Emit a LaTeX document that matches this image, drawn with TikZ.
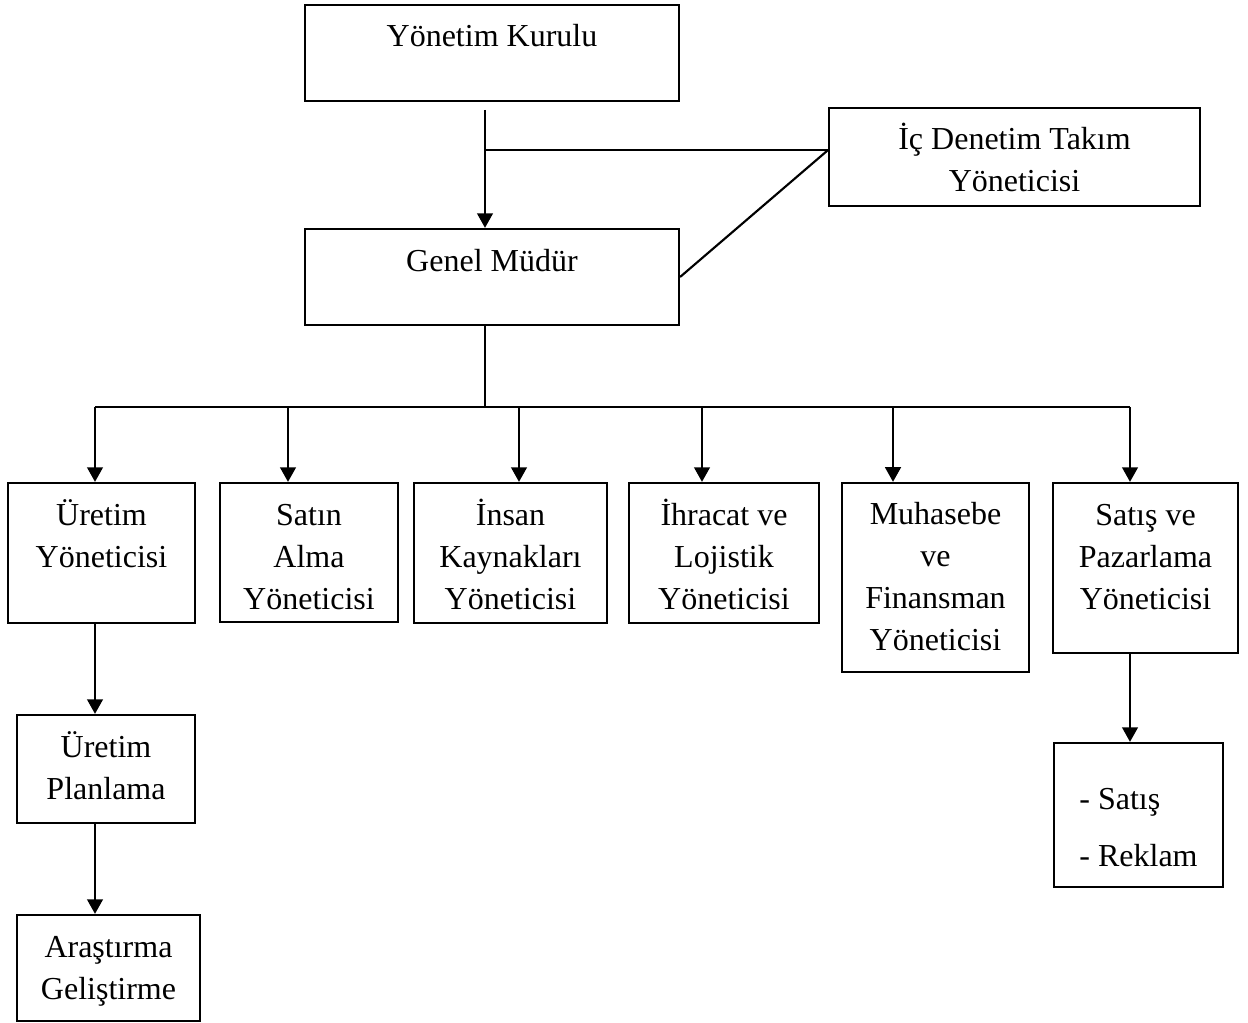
\documentclass[tikz,border=0pt]{standalone}
\usepackage{fontspec}
\setmainfont{Liberation Serif}
\usepackage{tikz}
\usetikzlibrary{arrows.meta, positioning, calc}

\begin{document}
\begin{tikzpicture}[x=0.375pt, y=-0.375pt, >={Triangle[width=5.8pt, length=5.5pt]},
  font=\fontsize{12pt}{15.75pt}\selectfont,
  box/.style={draw, line width=0.8pt, align=center, inner xsep=2pt, inner ysep=0pt},
  one/.style={text height=15.75pt},
  two/.style={text height=31.5pt},
  three/.style={text height=47.25pt},
  four/.style={text height=63pt},
  link/.style={line width=0.8pt},
  arr/.style={->, line width=1.1pt}]
  \useasboundingbox (0,0) rectangle (1248,1023);

  % top level
  \node[box, one, minimum width=140.25pt, text depth=20.25pt] (yk)  at (492,53)    {Yönetim Kurulu};
  \node[box, two, minimum width=139pt,    text depth=5.25pt]  (icd) at (1014.5,157) {İç Denetim Takım\\Yöneticisi};
  \node[box, one, minimum width=140.25pt, text depth=20.25pt] (gm)  at (492,277)   {Genel Müdür};

  % managers
  \node[box, two,   minimum width=70.1pt,  text depth=21pt]   (ury) at (101.5,553)   {Üretim\\Yöneticisi};
  \node[box, three, minimum width=66.75pt, text depth=4.85pt] (sat) at (309,552.5)   {Satın\\Alma\\Yöneticisi};
  \node[box, three, minimum width=72.4pt,  text depth=5.25pt] (ik)  at (510.5,553)   {İnsan\\Kaynakları\\Yöneticisi};
  \node[box, three, minimum width=71.25pt, text depth=5.25pt] (ihr) at (724,553)     {İhracat ve\\Lojistik\\Yöneticisi};
  \node[box, four,  minimum width=70.1pt,  text depth=7.9pt]  (muh) at (935.5,577.5) {Muhasebe\\ve\\Finansman\\Yöneticisi};
  \node[box, three, minimum width=69.4pt,  text depth=16.5pt] (spy) at (1145.5,568)  {Satış ve\\Pazarlama\\Yöneticisi};

  % lower levels
  \node[box, two, minimum width=66.75pt, text depth=9pt]    (upl) at (106,769)   {Üretim\\Planlama};
  \node[box, two, minimum width=68.6pt,  text depth=8.25pt] (arg) at (108.5,968) {Araştırma\\Geliştirme};
  \node[box, align=left, minimum width=63.4pt, text height=46.35pt, text depth=7.65pt]
        (sr) at (1138.5,815) {- Satış\\[5.6pt]- Reklam};

  \coordinate (top) at (485,110);
  \coordinate (j1)  at (485,150);
  \coordinate (bus) at (485,407);
  \coordinate (b1) at (95,407);   \coordinate (b2) at (288,407);
  \coordinate (b3) at (519,407);  \coordinate (b4) at (702,407);
  \coordinate (b5) at (893,407);  \coordinate (b6) at (1130,407);

  \draw[arr]  (top) -- (top|-gm.north);
  \draw[link] (j1) -- (j1-|icd.west);
  \draw[link] (gm.east) -- (j1-|icd.west);
  \draw[link] (gm.south-|bus) -- (bus);
  \draw[link] (b1) -- (b6);
  \foreach \b/\n in {b1/ury, b2/sat, b3/ik, b4/ihr, b5/muh, b6/spy}
    \draw[arr] (\b) -- (\b|-\n.north);

  \draw[arr] (b1|-ury.south) -- (b1|-upl.north);
  \draw[arr] (b1|-upl.south) -- (b1|-arg.north);
  \draw[arr] (b6|-spy.south) -- (b6|-sr.north);
\end{tikzpicture}
\end{document}
